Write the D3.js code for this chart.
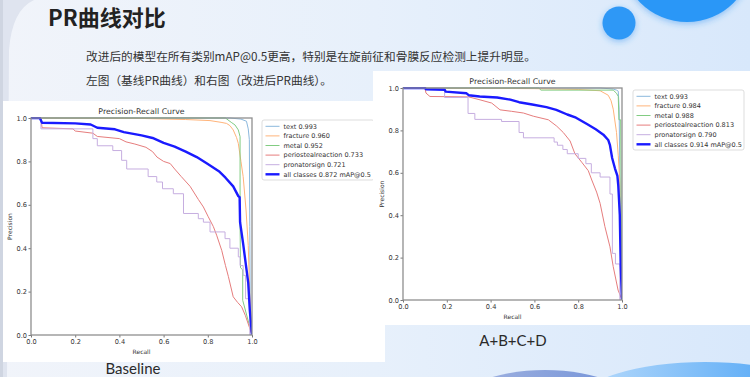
<!DOCTYPE html>
<html lang="zh">
  <head>
    <meta charset="UTF-8" />
    <title>PR曲线对比</title>
    <script src="https://d3js.org/d3.v7.min.js"></script>
    <style>
      body {
        margin: 0;
        overflow: hidden;
        background: #e4eefa;
      }
      svg {
        display: block;
      }
      .mpl text {
        font-family: "DejaVu Sans", sans-serif;
        fill: #333;
      }
    </style>
  </head>
  <body>
    <svg id="slide" width="750" height="377"></svg>

    <script>
      // ---- data: [recall, precision] ----
      const classNames = ["text", "fracture", "metal", "periostealreaction", "pronatorsign", "all classes"];
      const classColors = ["#8bb8dd", "#ffb47a", "#82cc82", "#e67d7d", "#c6aee0", "#1a1aff"];
      const baselineAP = [0.993, 0.96, 0.952, 0.733, 0.721, 0.872];
      const improvedAP = [0.993, 0.984, 0.988, 0.813, 0.79, 0.914];
      const axisTicks = [0, 0.2, 0.4, 0.6, 0.8, 1.0];

      // Baseline
      const baseText = [[0, 1], [0.9, 1], [0.95, 0.995], [0.975, 0.985], [0.983, 0.95], [0.988, 0.9], [0.99, 0.5], [0.992, 0.1], [1, 0]];
      const baseFracture = [[0, 1], [0.5, 0.998], [0.7, 0.993], [0.81, 0.988], [0.86, 0.98], [0.885, 0.975], [0.9, 0.965], [0.915, 0.945], [0.93, 0.91], [0.938, 0.883], [0.95, 0.8], [0.96, 0.73], [0.973, 0.576], [0.983, 0.413], [0.99, 0.18], [1, 0]];
      const baseMetal = [[0, 1], [0.88, 1], [0.906, 0.98], [0.923, 0.968], [0.938, 0.945], [0.946, 0.914], [0.946, 0.516], [0.948, 0.31], [0.958, 0.3], [0.958, 0.16], [1, 0]];
      const basePeriosteal = [[0, 1], [0.045, 1], [0.05, 0.955], [0.19, 0.95], [0.2, 0.94], [0.28, 0.93], [0.3, 0.915], [0.4, 0.905], [0.43, 0.89], [0.47, 0.88], [0.52, 0.865], [0.55, 0.845], [0.57, 0.82], [0.6, 0.8], [0.63, 0.79], [0.65, 0.765], [0.68, 0.73], [0.72, 0.685], [0.757, 0.625], [0.78, 0.59], [0.802, 0.545], [0.825, 0.5], [0.84, 0.46], [0.863, 0.39], [0.88, 0.32], [0.893, 0.27], [0.915, 0.176], [0.935, 0.15], [0.953, 0.13], [0.97, 0.09], [1, 0]];
      const basePronator = [[0, 1], [0.045, 0.95], [0.28, 0.905], [0.3, 0.872], [0.37, 0.85], [0.41, 0.805], [0.433, 0.765], [0.53, 0.73], [0.569, 0.705], [0.595, 0.674], [0.644, 0.651], [0.69, 0.56], [0.757, 0.536], [0.78, 0.52], [0.81, 0.475], [0.878, 0.444], [0.9, 0.4], [0.938, 0.36], [0.946, 0.32], [0.96, 0.275], [0.971, 0.167], [0.99, 0], [1, 0]];
      const baseAll = [[0, 1], [0.04, 1], [0.05, 0.978], [0.2, 0.975], [0.27, 0.97], [0.3, 0.955], [0.38, 0.948], [0.42, 0.935], [0.5, 0.92], [0.55, 0.908], [0.6, 0.885], [0.65, 0.868], [0.7, 0.845], [0.75, 0.82], [0.8, 0.788], [0.85, 0.755], [0.88, 0.725], [0.915, 0.685], [0.938, 0.64], [0.944, 0.635], [0.946, 0.52], [0.96, 0.42], [0.983, 0.24], [0.99, 0.115], [1, 0]];

      // A+B+C+D
      const abcdText = [[0, 1], [0.9, 1], [0.96, 0.995], [0.975, 0.99], [0.983, 0.985], [0.987, 0.9], [0.99, 0.6], [0.995, 0.3], [1, 0]];
      const abcdFracture = [[0, 1], [0.6, 0.997], [0.8, 0.993], [0.9, 0.987], [0.937, 0.966], [0.95, 0.94], [0.96, 0.9], [0.975, 0.79], [0.983, 0.68], [0.99, 0.56], [0.993, 0.3], [1, 0]];
      const abcdMetal = [[0, 1], [0.62, 1], [0.63, 0.99], [0.96, 0.99], [0.975, 0.975], [0.983, 0.96], [0.986, 0.85], [0.994, 0.85], [0.996, 0.45], [1, 0]];
      const abcdPeriosteal = [[0, 1], [0.1, 1], [0.105, 0.976], [0.123, 0.96], [0.3, 0.958], [0.352, 0.944], [0.405, 0.929], [0.443, 0.897], [0.496, 0.89], [0.55, 0.882], [0.595, 0.867], [0.664, 0.85], [0.702, 0.82], [0.732, 0.79], [0.763, 0.75], [0.785, 0.69], [0.816, 0.65], [0.846, 0.61], [0.862, 0.566], [0.884, 0.509], [0.9, 0.456], [0.922, 0.346], [0.945, 0.251], [0.96, 0.157], [0.982, 0.047], [1, 0]];
      const abcdPronator = [[0, 1], [0.19, 0.955], [0.297, 0.88], [0.328, 0.852], [0.45, 0.842], [0.53, 0.79], [0.55, 0.765], [0.69, 0.745], [0.705, 0.73], [0.73, 0.71], [0.75, 0.69], [0.8, 0.668], [0.835, 0.643], [0.86, 0.6], [0.9, 0.58], [0.945, 0.5], [0.956, 0.22], [0.97, 0.17], [0.99, 0], [1, 0]];
      const abcdAll = [[0, 1], [0.1, 1], [0.105, 0.994], [0.19, 0.992], [0.195, 0.983], [0.29, 0.975], [0.3, 0.966], [0.35, 0.96], [0.43, 0.955], [0.49, 0.945], [0.53, 0.933], [0.59, 0.922], [0.655, 0.91], [0.7, 0.897], [0.75, 0.875], [0.79, 0.86], [0.84, 0.83], [0.88, 0.805], [0.915, 0.78], [0.937, 0.755], [0.945, 0.73], [0.955, 0.67], [0.968, 0.62], [0.979, 0.585], [0.983, 0.54], [0.99, 0.4], [0.994, 0.166], [1, 0]];

      const svg = d3.select("#slide");
      const defs = svg.append("defs");

      // ---- slide background ----
      const bgGrad = defs.append("linearGradient").attr("id", "bg").attr("x1", 0).attr("x2", 1);
      bgGrad.append("stop").attr("offset", 0).attr("stop-color", "#f1f4fa");
      bgGrad.append("stop").attr("offset", 0.5).attr("stop-color", "#e7f0fb");
      bgGrad.append("stop").attr("offset", 1).attr("stop-color", "#d8e8fb");
      svg.append("rect").attr("width", 750).attr("height", 377).attr("fill", "url(#bg)");

      svg.append("path")
        .attr("d", "M0,0 L34,0 Q12,10 9,50 L7,377 L0,377 Z")
        .attr("fill", "#dfe4ef");
      svg.append("rect").attr("width", 3).attr("height", 377).attr("fill", "#cfd5e1");

      const glow = defs.append("filter").attr("id", "glow").attr("x", -0.5).attr("y", -0.5).attr("width", 2).attr("height", 2);
      glow.append("feDropShadow").attr("dx", 0).attr("dy", 2).attr("stdDeviation", 3)
        .attr("flood-color", "#2a8ff0").attr("flood-opacity", 0.45);
      svg.append("circle").attr("cx", 687).attr("cy", -44).attr("r", 66)
        .attr("fill", "#2a97f7").attr("filter", "url(#glow)");
      svg.append("circle").attr("cx", 619).attr("cy", 23).attr("r", 16.5)
        .attr("fill", "#2e98f6").attr("filter", "url(#glow)");

      // bottom waves
      const w1 = defs.append("linearGradient").attr("id", "wave1").attr("x1", 0).attr("x2", 1);
      w1.append("stop").attr("offset", 0).attr("stop-color", "#a6b6e0");
      w1.append("stop").attr("offset", 1).attr("stop-color", "#6e8fd8");
      const w2 = defs.append("linearGradient").attr("id", "wave2").attr("x1", 0).attr("x2", 1);
      w2.append("stop").attr("offset", 0).attr("stop-color", "#b9dbfb");
      w2.append("stop").attr("offset", 1).attr("stop-color", "#3f9df5");
      svg.append("ellipse").attr("cx", 545).attr("cy", 412).attr("rx", 95).attr("ry", 42).attr("fill", "url(#wave1)");
      svg.append("ellipse").attr("cx", 705).attr("cy", 402).attr("rx", 125).attr("ry", 40).attr("fill", "url(#wave2)");

      // ---- heading texts ----
      svg.append("text").attr("x", 48).attr("y", 26)
        .style("font-family", "'Noto Sans CJK SC', sans-serif").style("font-weight", "bold")
        .style("font-size", "22px").attr("fill", "#222").text("PR曲线对比");
      svg.append("text").attr("x", 86).attr("y", 61)
        .style("font-family", "'Noto Sans CJK SC', sans-serif").style("font-size", "11.7px")
        .attr("fill", "#333").text("改进后的模型在所有类别mAP@0.5更高，特别是在旋前征和骨膜反应检测上提升明显。");
      svg.append("text").attr("x", 86).attr("y", 85)
        .style("font-family", "'Noto Sans CJK SC', sans-serif").style("font-size", "11.7px")
        .attr("fill", "#333").text("左图（基线PR曲线）和右图（改进后PR曲线）。");

      // ---- one matplotlib-like PR chart ----
      function drawChart(cfg) {
        const g = svg.append("g").attr("class", "mpl");
        g.append("rect").attr("x", cfg.panel[0]).attr("y", cfg.panel[1])
          .attr("width", cfg.panel[2]).attr("height", cfg.panel[3]).attr("fill", "#fff");

        const x = d3.scaleLinear().domain([0, 1]).range([cfg.left, cfg.right]);
        const y = d3.scaleLinear().domain([0, 1]).range([cfg.bottom, cfg.top]);

        const clipId = "clip" + cfg.id;
        defs.append("clipPath").attr("id", clipId).append("rect")
          .attr("x", cfg.left).attr("y", cfg.top - 1)
          .attr("width", cfg.right - cfg.left).attr("height", cfg.bottom - cfg.top + 1);

        const lines = g.append("g").attr("clip-path", `url(#${clipId})`);
        cfg.curves.forEach((pts, i) => {
          const stepped = i === 4;
          const line = d3.line()
            .x((d) => x(d[0]))
            .y((d) => y(d[1]))
            .curve(stepped ? d3.curveStepAfter : d3.curveLinear);
          lines.append("path")
            .attr("d", line(pts))
            .attr("fill", "none")
            .attr("stroke", classColors[i])
            .attr("stroke-width", i === 5 ? 2.4 : 1)
            .attr("stroke-linejoin", "round");
        });

        const xAxis = g.append("g").attr("transform", `translate(0,${cfg.bottom})`)
          .call(d3.axisBottom(x).tickValues(axisTicks).tickFormat(d3.format(".1f")).tickSize(2.5).tickPadding(1.5));
        const yAxis = g.append("g").attr("transform", `translate(${cfg.left},0)`)
          .call(d3.axisLeft(y).tickValues(axisTicks).tickFormat(d3.format(".1f")).tickSize(2.5).tickPadding(1.5));
        [xAxis, yAxis].forEach((a) => {
          a.select(".domain").remove();
          a.selectAll(".tick line").attr("stroke", "#777");
          a.selectAll(".tick text").style("font-size", "6.6px");
        });

        g.append("rect").attr("x", cfg.left).attr("y", cfg.top)
          .attr("width", cfg.right - cfg.left).attr("height", cfg.bottom - cfg.top)
          .attr("fill", "none").attr("stroke", "#8f8f8f").attr("stroke-width", 1.3);

        g.append("text").attr("x", (cfg.left + cfg.right) / 2).attr("y", cfg.top - 4)
          .attr("text-anchor", "middle").style("font-size", "7.8px").text("Precision-Recall Curve");
        g.append("text").attr("x", (cfg.left + cfg.right) / 2).attr("y", cfg.bottom + 19)
          .attr("text-anchor", "middle").style("font-size", "6px").text("Recall");
        g.append("text")
          .attr("transform", `translate(${cfg.left - 19},${(cfg.top + cfg.bottom) / 2}) rotate(-90)`)
          .attr("text-anchor", "middle").style("font-size", "6px").text("Precision");

        // legend
        const lg = g.append("g").attr("transform", `translate(${cfg.legend[0]},${cfg.legend[1]})`);
        lg.append("rect").attr("width", cfg.legend[2]).attr("height", 60).attr("rx", 2)
          .attr("fill", "#fff").attr("stroke", "#d4d4d4").attr("stroke-width", 0.8);
        classNames.forEach((name, i) => {
          const row = lg.append("g").attr("transform", `translate(0,${6.3 + i * 9.6})`);
          row.append("line").attr("x1", 3.5).attr("x2", 17.5)
            .attr("stroke", classColors[i]).attr("stroke-width", i === 5 ? 2.4 : 1);
          row.append("text").attr("x", 21.5).attr("dy", "0.35em").style("font-size", "6.5px")
            .text(`${name} ${cfg.ap[i].toFixed(3)}` + (i === 5 ? " mAP@0.5" : ""));
        });
      }

      drawChart({
        id: "base",
        panel: [3, 101, 382, 261],
        left: 31, right: 252, top: 118, bottom: 335,
        legend: [262, 120, 112],
        ap: baselineAP,
        curves: [baseText, baseFracture, baseMetal, basePeriosteal, basePronator, baseAll],
      });
      drawChart({
        id: "abcd",
        panel: [373, 71, 377, 254],
        left: 403, right: 622, top: 88, bottom: 300,
        legend: [633, 90, 111],
        ap: improvedAP,
        curves: [abcdText, abcdFracture, abcdMetal, abcdPeriosteal, abcdPronator, abcdAll],
      });

      // captions
      svg.append("text").attr("x", 133).attr("y", 374).attr("text-anchor", "middle")
        .style("font-family", "Lato, sans-serif").style("font-size", "15px")
        .attr("fill", "#2a2a2a").text("Baseline");
      svg.append("text").attr("x", 513).attr("y", 346).attr("text-anchor", "middle")
        .style("font-family", "Lato, sans-serif").style("font-size", "15px")
        .attr("fill", "#2a2a2a").text("A+B+C+D");
    </script>
  </body>
</html>
